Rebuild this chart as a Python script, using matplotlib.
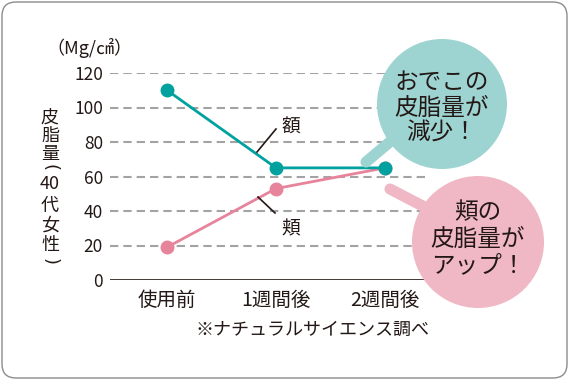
import matplotlib.pyplot as plt
from matplotlib.patches import Circle, FancyBboxPatch

plt.rcParams['font.family'] = ['Noto Sans CJK JP', 'DejaVu Sans']

# データ
categories = ['使用前', '1週間後', '2週間後']
forehead = [110, 65, 65]   # 額
cheek = [19, 53, 65]       # 頬
yticks = [0, 20, 40, 60, 80, 100, 120]

teal = '#00a19f'
pink = '#e7849c'
teal_bubble = '#9dd4d2'
pink_bubble = '#f0b8c5'
txt = '#231815'

fig = plt.figure(figsize=(5.69, 3.80), dpi=100)
fig.patch.set_facecolor('white')

ax = fig.add_axes([110 / 569, 1 - 280 / 380, 315 / 569, 207 / 380])
x = list(range(len(categories)))
ax.set_xlim(-0.523, 2.367)
ax.set_ylim(0, 120)

# 目盛り線
for v in yticks[1:]:
    ax.axhline(v, color='#a3a3a3', lw=1.5, dashes=(4, 2.4), zorder=1)
ax.axhline(0, color=txt, lw=1.2, zorder=2)

ax.plot(x, forehead, color=teal, lw=2, marker='o', ms=9, zorder=4, clip_on=False)
ax.plot(x, cheek, color=pink, lw=2, marker='o', ms=9, zorder=3, clip_on=False)

for s in ax.spines.values():
    s.set_visible(False)
ax.set_yticks(yticks)
ax.set_yticklabels([str(v) for v in yticks], fontsize=12.5, color=txt)
ax.set_xticks(x)
ax.set_xticklabels(categories, fontsize=14, color=txt)
ax.tick_params(axis='both', length=0)
ax.tick_params(axis='y', pad=5)
ax.tick_params(axis='x', pad=7)
ax.patch.set_alpha(0)

# 装飾用のピクセル座標の軸
ov = fig.add_axes([0, 0, 1, 1])
ov.set_xlim(0, 569)
ov.set_ylim(380, 0)
ov.axis('off')
ov.patch.set_alpha(0)

# 枠
ov.add_patch(FancyBboxPatch((2, 2), 565, 376, boxstyle='round,pad=0,rounding_size=14',
                            fc='none', ec='#8c8c8c', lw=1))

# 単位・軸ラベル（縦書き）
ov.text(89, 48, '（Mg/㎠）', fontsize=13, color=txt, ha='center', va='center')
ylab = ['皮', '脂', '量', '(', '40', '代', '女', '性', ')']
ylab_y = [118, 136, 154, 168, 184, 206, 226, 245, 262]
for c, yy in zip(ylab, ylab_y):
    if c in '()':
        ov.text(50, yy, c, fontsize=13, color=txt, ha='center', va='center',
                rotation=-90, family='DejaVu Sans')
    else:
        ov.text(50, yy, c, fontsize=13, color=txt, ha='center', va='center')

# 額・頬の引き出し線
ov.plot([257, 276], [152, 129], color=txt, lw=1.2)
ov.text(291, 127, '額', fontsize=13.5, color=txt, ha='center', va='center')
ov.plot([258, 275], [197, 213], color=txt, lw=1.2)
ov.text(291, 229, '頬', fontsize=13.5, color=txt, ha='center', va='center')

# 吹き出し
ov.plot([366, 410], [162, 125], color=teal_bubble, lw=8, solid_capstyle='round', zorder=5)
ov.add_patch(Circle((442, 104), 65, fc=teal_bubble, ec='none', zorder=6))
ov.text(442, 108, 'おでこの\n皮脂量が\n減少！', fontsize=17, color=txt, ha='center',
        va='center', linespacing=1.12, zorder=7)

ov.plot([390, 440], [189, 215], color=pink_bubble, lw=8, solid_capstyle='round', zorder=5)
ov.add_patch(Circle((478, 242), 66, fc=pink_bubble, ec='none', zorder=6))
ov.text(478, 239, '頬の\n皮脂量が\nアップ！', fontsize=17, color=txt, ha='center',
        va='center', linespacing=1.18, zorder=7)

# 出典
ov.text(313, 330, '※ナチュラルサイエンス調べ', fontsize=13, color=txt, ha='center', va='center')

fig.savefig('out.png', dpi=100)
